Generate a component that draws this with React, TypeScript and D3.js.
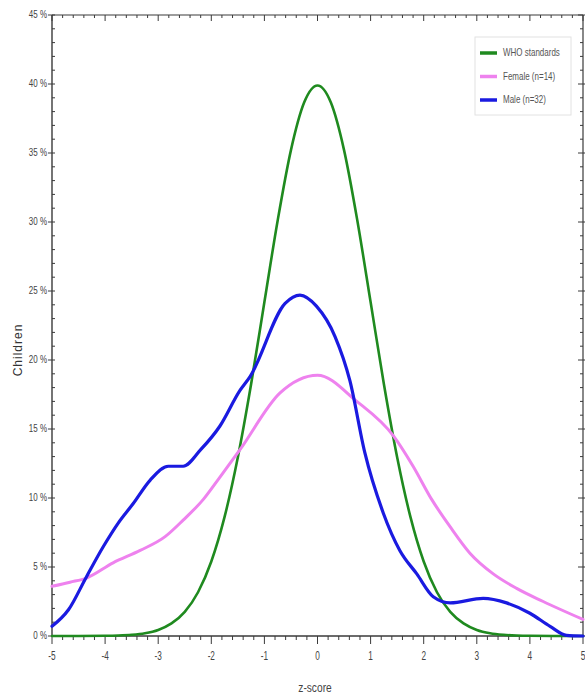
import React from "react";
import * as d3 from "d3";

const xTicks = [-5, -4, -3, -2, -1, 0, 1, 2, 3, 4, 5];
const yTicks = [0, 5, 10, 15, 20, 25, 30, 35, 40, 45];

const whoZ = [-5, -4.5, -4, -3.75, -3.5, -3.25, -3, -2.75, -2.5, -2.25, -2, -1.75, -1.5, -1.25, -1, -0.75, -0.5, -0.25, 0, 0.25, 0.5, 0.75, 1, 1.25, 1.5, 1.75, 2, 2.25, 2.5, 2.75, 3, 3.25, 3.5, 3.75, 4, 4.5, 5];
const whoPct = [0, 0.002, 0.013, 0.035, 0.087, 0.2, 0.44, 0.91, 1.75, 3.17, 5.4, 8.63, 12.95, 18.26, 24.2, 30.11, 35.21, 38.67, 39.89, 38.67, 35.21, 30.11, 24.2, 18.26, 12.95, 8.63, 5.4, 3.17, 1.75, 0.91, 0.44, 0.2, 0.087, 0.035, 0.013, 0.002, 0];

const femaleZ = [-5, -4.66, -4.35, -3.85, -3.34, -2.87, -2.53, -2.15, -1.84, -1.46, -0.71, 0, 0.74, 1.43, 1.8, 2.15, 2.5, 2.87, 3.31, 3.75, 4.25, 5];
const femalePct = [3.6, 3.9, 4.2, 5.3, 6.2, 7.2, 8.4, 9.9, 11.5, 13.5, 17.6, 18.9, 17.0, 14.5, 12.3, 9.9, 7.9, 6.0, 4.5, 3.45, 2.5, 1.2];

const maleZ = [-5, -4.69, -4.35, -4.03, -3.75, -3.47, -3.15, -2.81, -2.53, -2.2, -1.84, -1.46, -1.27, -0.61, -0.33, -0.02, 0.33, 0.61, 0.89, 1.24, 1.55, 1.87, 2.18, 2.5, 3.12, 3.56, 4.0, 4.38, 4.69, 5];
const malePct = [0.7, 1.9, 4.3, 6.5, 8.2, 9.6, 11.3, 12.3, 12.3, 13.5, 15.2, 17.8, 18.8, 24.1, 24.7, 23.9, 21.7, 18.5, 13.3, 8.9, 6.2, 4.5, 2.85, 2.4, 2.73, 2.4, 1.65, 0.7, 0.05, 0];

const seriesNames = ["WHO standards", "Female (n=14)", "Male (n=32)"];
const seriesColors = ["#1f8a1f", "#ee82ee", "#1a1ae0"];

export default function App() {
  const W = 585, H = 698;
  const x = d3.scaleLinear().domain([-5, 5]).range([52, 583]);
  const y = d3.scaleLinear().domain([0, 45]).range([636, 15]);
  const mk = (zs: number[], ps: number[], curve: any) =>
    d3.line<number>().x((_, i) => x(zs[i])).y((_, i) => y(ps[i])).curve(curve)(zs) || "";

  const minorX = d3.range(-5, 5.001, 0.2).filter((v) => Math.abs(v - Math.round(v)) > 0.01);
  const minorY = d3.range(0, 45.001, 1).filter((v) => v % 5 !== 0);
  const axisCol = "#3a3a3a";
  const labFont = "'Liberation Sans', Arial, sans-serif";
  const [x0, x1] = x.range();
  const [y0, y1] = y.range();
  const sq = (cx: number, cy: number, sx: number, sy: number) =>
    `translate(${cx},${cy}) scale(${sx},${sy}) translate(${-cx},${-cy})`;

  const series = [
    { d: mk(whoZ, whoPct, d3.curveMonotoneX), w: 2.6 },
    { d: mk(femaleZ, femalePct, d3.curveMonotoneX), w: 3 },
    { d: mk(maleZ, malePct, d3.curveMonotoneX), w: 3.2 },
  ];

  return (
    <svg width={W} height={H} style={{ position: "absolute", left: 0, top: 0, background: "#fff" }}>
      <rect x={0} y={0} width={W} height={H} fill="#fff" />
      <line x1={x0} x2={x1} y1={y0} y2={y0} stroke={axisCol} strokeWidth={1.6} />
      <line x1={x0} x2={x1} y1={y1} y2={y1} stroke={axisCol} strokeWidth={1.2} />
      <line x1={x0} x2={x0} y1={y0} y2={y1} stroke={axisCol} strokeWidth={1.4} />
      <line x1={x1} x2={x1} y1={y0} y2={y1} stroke={axisCol} strokeWidth={1.2} />

      {xTicks.map((t) => (
        <g key={"xb" + t}>
          <line x1={x(t)} x2={x(t)} y1={y0} y2={y0 + 8} stroke={axisCol} strokeWidth={1} />
          <line x1={x(t)} x2={x(t)} y1={y1} y2={y1 + 6} stroke={axisCol} strokeWidth={1} />
          <text x={x(t)} y={y0 + 24} textAnchor="middle" fontFamily={labFont} fontSize={11} fill="#444"
            transform={sq(x(t), y0 + 24, 0.75, 1.2)}>
            {t}
          </text>
        </g>
      ))}
      {minorX.map((t, i) => (
        <g key={"xm" + i}>
          <line x1={x(t)} x2={x(t)} y1={y0} y2={y0 + 4} stroke={axisCol} strokeWidth={1} />
          <line x1={x(t)} x2={x(t)} y1={y1} y2={y1 + 3} stroke={axisCol} strokeWidth={1} />
        </g>
      ))}
      {yTicks.map((t) => (
        <g key={"yl" + t}>
          <line x1={x0 - 4} x2={x0 + 3} y1={y(t)} y2={y(t)} stroke={axisCol} strokeWidth={1} />
          <line x1={x1 - 5} x2={x1 + 2} y1={y(t)} y2={y(t)} stroke={axisCol} strokeWidth={1} />
          <text x={47} y={y(t) + 3.5} textAnchor="end" fontFamily={labFont} fontSize={10} fill="#444"
            transform={sq(47, y(t) + 3.5, 0.8, 1)}>
            {t + " %"}
          </text>
        </g>
      ))}
      {minorY.map((t) => (
        <g key={"ym" + t}>
          <line x1={x0} x2={x0 + 3} y1={y(t)} y2={y(t)} stroke={axisCol} strokeWidth={1} />
          <line x1={x1 - 3} x2={x1} y1={y(t)} y2={y(t)} stroke={axisCol} strokeWidth={1} />
        </g>
      ))}

      {series.map((s, i) => (
        <path key={i} d={s.d} fill="none" stroke={seriesColors[i]} strokeWidth={s.w} strokeLinejoin="round" strokeLinecap="round" />
      ))}

      <rect x={475} y={37} width={96} height={78} fill="#fff" stroke="#e2e2e2" strokeWidth={1} />
      {seriesNames.map((n, i) => (
        <g key={n}>
          <line x1={480} x2={497} y1={53 + i * 23.5} y2={53 + i * 23.5} stroke={seriesColors[i]} strokeWidth={3.5} />
          <text x={503} y={56.5 + i * 23.5} fontFamily={labFont} fontSize={10} fill="#555"
            transform={sq(503, 56.5 + i * 23.5, 0.8, 1)}>{n}</text>
        </g>
      ))}

      <text x={0} y={0} transform="translate(22,350) rotate(-90)" textAnchor="middle"
        fontFamily={labFont} fontSize={12} letterSpacing={1} fill="#333">Children</text>
      <text x={315} y={692} textAnchor="middle" fontFamily={labFont} fontSize={12} fill="#444"
        transform={sq(315, 692, 0.85, 1.1)}>z-score</text>
    </svg>
  );
}
